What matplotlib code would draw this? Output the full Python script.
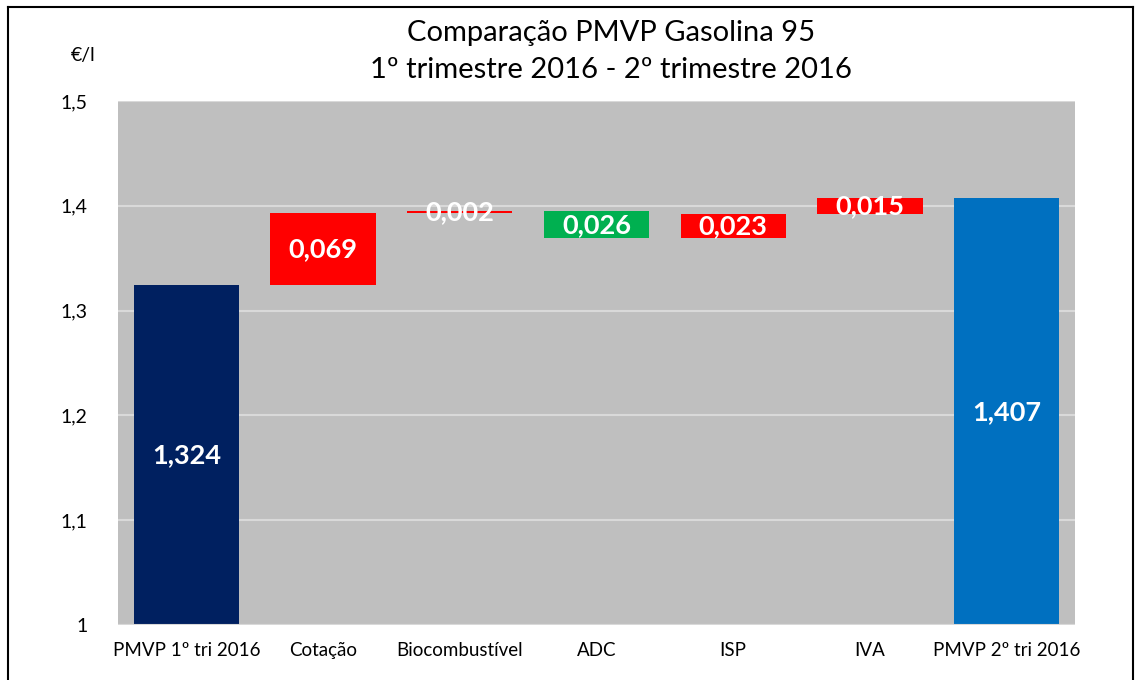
import matplotlib
matplotlib.use("Agg")
import matplotlib.pyplot as plt
from matplotlib.lines import Line2D

categories = ["PMVP 1º tri 2016", "Cotação", "Biocombustível", "ADC", "ISP", "IVA", "PMVP 2º tri 2016"]
start_value = 1.324
deltas = [0.069, 0.002, -0.026, 0.023, 0.015]
end_value = 1.407
delta_labels = ["0,069", "0,002", "0,026", "0,023", "0,015"]
total_labels = ["1,324", "1,407"]
yticks = [1.0, 1.1, 1.2, 1.3, 1.4, 1.5]
ytick_labels = ["1", "1,1", "1,2", "1,3", "1,4", "1,5"]

plt.rcParams['font.family'] = ['Lato', 'DejaVu Sans']

fig = plt.figure(figsize=(11.35, 6.8), dpi=100)
W, H = 1135, 680
ax = fig.add_axes([118 / W, 1 - 625 / H, (1075 - 118) / W, (625 - 101) / H])
ax.set_facecolor("#BFBFBF")
ax.set_xlim(-0.5, len(categories) - 0.5)
ax.set_ylim(1.0, 1.5)
ax.set_yticks(yticks)
ax.set_yticklabels(ytick_labels, fontsize=14)
ax.grid(axis="y", color="#D9D9D9", linewidth=1.5, zorder=0)
ax.set_axisbelow(True)
for s in ax.spines.values():
    s.set_visible(False)
ax.tick_params(axis="y", length=0, pad=22)
ax.tick_params(axis="x", length=0, pad=12)
ax.set_xticks(range(len(categories)))
ax.set_xticklabels(categories, fontsize=13.5)

bw = 0.77
label_kw = dict(ha="center", va="center", color="white", fontsize=19.5, fontweight="bold", zorder=5)

# start bar
ax.bar(0, start_value - 1.0, bottom=1.0, width=bw, color="#002060", zorder=2)
ax.text(0, (1.0 + start_value) / 2, total_labels[0], **label_kw)

level = start_value
for i, (d, lab) in enumerate(zip(deltas, delta_labels), start=1):
    color = "#FF0000" if d > 0 else "#00B050"
    lo = min(level, level + d)
    ax.bar(i, abs(d), bottom=lo, width=bw, color=color, zorder=2)
    ax.text(i, lo + abs(d) / 2, lab, **label_kw)
    level += d

# end bar
n = len(categories) - 1
ax.bar(n, end_value - 1.0, bottom=1.0, width=bw, color="#0070C0", zorder=2)
ax.text(n, (1.0 + end_value) / 2, total_labels[1], **label_kw)

ax.axhline(1.0, color="#D9D9D9", linewidth=1.5, zorder=3)

fig.text(611 / W, 1 - 33 / H, "Comparação PMVP Gasolina 95", ha="center", va="center", fontsize=21)
fig.text(611 / W, 1 - 70 / H, "1º trimestre 2016 - 2º trimestre 2016", ha="center", va="center", fontsize=21)
fig.text(83 / W, 1 - 55 / H, "€/l", ha="center", va="center", fontsize=14)

# outer frame
fig.add_artist(Line2D([8 / W, 8 / W], [0, 1 - 7 / H], transform=fig.transFigure, color="black", linewidth=1.5))
fig.add_artist(Line2D([8 / W, 1133 / W], [1 - 7 / H, 1 - 7 / H], transform=fig.transFigure, color="black", linewidth=1.5))
fig.add_artist(Line2D([1133 / W, 1133 / W], [0, 1 - 7 / H], transform=fig.transFigure, color="black", linewidth=1.5))

fig.savefig("out.png", dpi=100)
